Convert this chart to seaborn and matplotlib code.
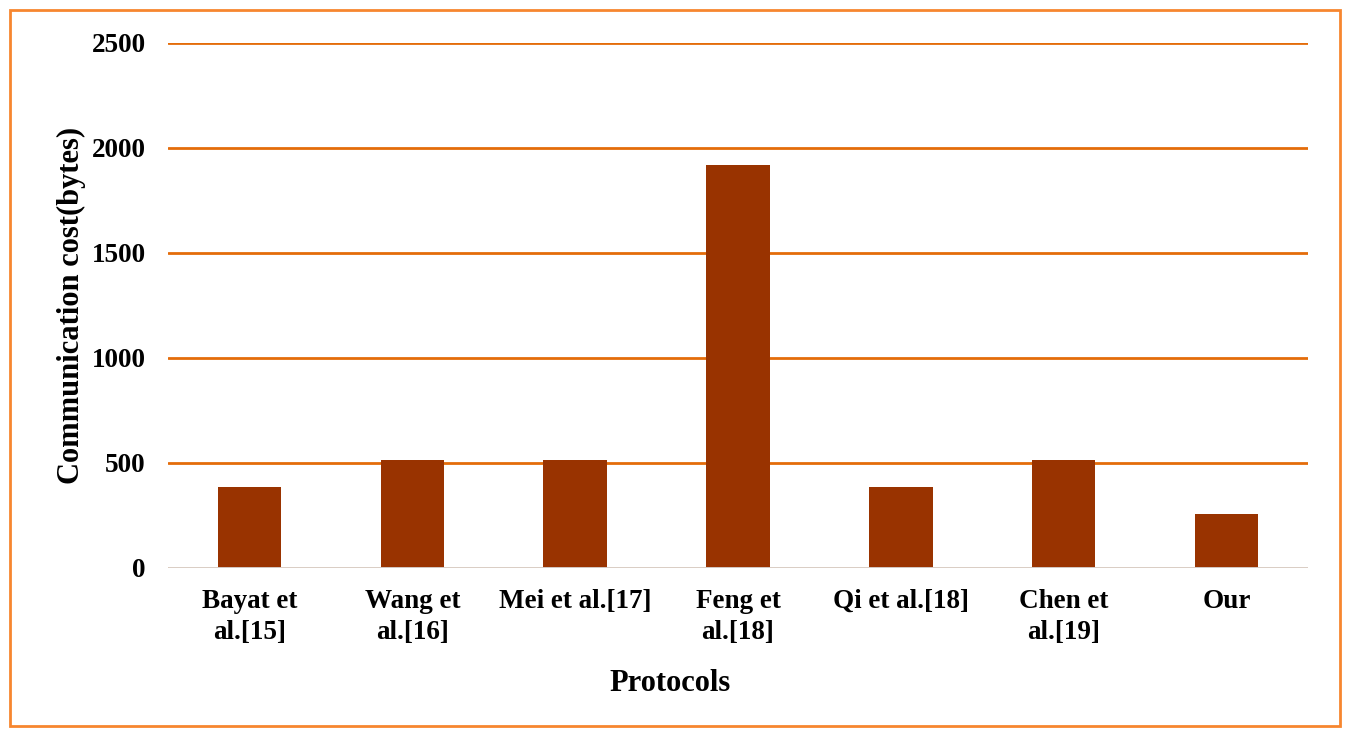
import matplotlib
matplotlib.use("Agg")
import matplotlib.pyplot as plt
import matplotlib.patches as patches
import pandas as pd
import seaborn as sns

# data
protocols = ["Bayat et\nal.[15]", "Wang et\nal.[16]", "Mei et al.[17]", "Feng et\nal.[18]",
             "Qi et al.[18]", "Chen et\nal.[19]", "Our"]
cost = [384, 512, 512, 1920, 384, 512, 256]
df = pd.DataFrame({"protocol": protocols, "cost": cost})

sns.set_style("white")
plt.rcParams["font.family"] = ["Liberation Serif", "DejaVu Serif"]
plt.rcParams["font.weight"] = "bold"
plt.rcParams["text.color"] = "black"
plt.rcParams["axes.labelcolor"] = "black"
plt.rcParams["xtick.color"] = "black"
plt.rcParams["ytick.color"] = "black"

fig = plt.figure(figsize=(13.51, 7.36), dpi=100)
ax = fig.add_axes([0.1244, 0.2283, 0.8437, 0.7133])

ax.set_axisbelow(True)
ax.yaxis.grid(True, color="#E46C0A", linewidth=2)
ax.set_ylim(0, 2500)
ax.set_yticks([0, 500, 1000, 1500, 2000, 2500])

sns.barplot(data=df, x="protocol", y="cost", color="#993300", width=0.39,
            saturation=1, linewidth=0, ax=ax)

ax.axhline(0, color="#D9D9D9", linewidth=2, zorder=3)
for s in ax.spines.values():
    s.set_visible(False)

ax.tick_params(axis="both", length=0, labelsize=19.5)
ax.tick_params(axis="y", pad=16)
ax.tick_params(axis="x", pad=15)
for t in ax.get_xticklabels() + ax.get_yticklabels():
    t.set_fontweight("bold")
for t in ax.get_xticklabels():
    t.set_linespacing(1.35)

ax.set_xlabel("Protocols", fontsize=22, fontweight="bold", va="center")
ax.xaxis.set_label_coords(0.44, -0.221)
ax.set_ylabel("Communication cost(bytes)", fontsize=22, fontweight="bold", labelpad=4)

# orange frame around the chart
frame = patches.Rectangle((10 / 1351, 10 / 736), 1330 / 1351, 716 / 736,
                          transform=fig.transFigure, fill=False,
                          edgecolor="#F7862F", linewidth=2)
fig.patches.append(frame)

plt.savefig("out.png", dpi=100)
